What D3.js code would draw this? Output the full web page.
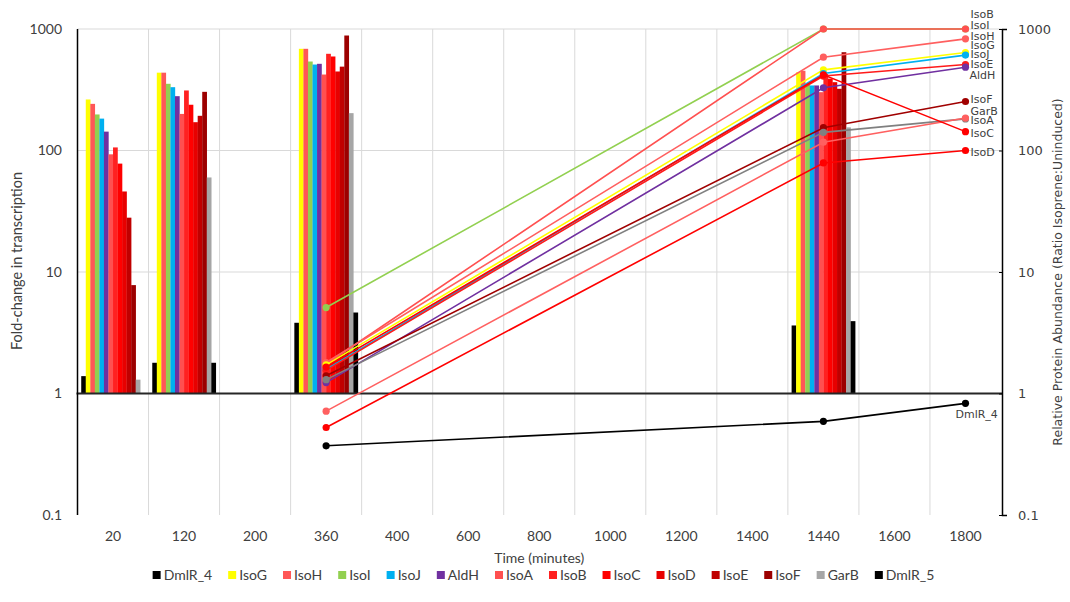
<!DOCTYPE html>
<html>
<head>
<meta charset="utf-8">
<script src="https://cdn.jsdelivr.net/npm/d3@7"></script>
<style>
  body { margin: 0; background: #fff; }
  text { font-family: Lato, "Liberation Sans", sans-serif; fill: #404040; }
  .r text, text.r { font-family: "DejaVu Sans", sans-serif; }
</style>
</head>
<body>
<div id="chart"></div>
<script>
// categories on the x axis (category axis, not time scale)
var categories = ["20", "120", "200", "360", "400", "600", "800", "1000", "1200", "1400", "1440", "1600", "1800"];

// bar series: fold-change in transcription
var barSeries = ["DmlR_4", "IsoG", "IsoH", "IsoI", "IsoJ", "AldH", "IsoA", "IsoB", "IsoC", "IsoD", "IsoE", "IsoF", "GarB", "DmlR_5"];
var barColors = ["#000000", "#FFFF00", "#FF5757", "#92D050", "#00B0F0", "#7030A0", "#FF5050", "#FF2121", "#FF0000", "#E80000", "#C00000", "#9C0000", "#A6A6A6", "#000000"];
var barTimes = ["20", "120", "360", "1440"];
var fc20   = [1.39, 263, 242, 198, 183, 143, 93, 106, 78, 46, 28, 7.8, 1.3, null];
var fc120  = [1.79, 437, 437, 354, 332, 280, 200, 312, 238, 171, 193, 304, 60, 1.79];
var fc360  = [3.82, 687, 687, 540, 510, 517, 422, 625, 594, 447, 490, 884, 203, 4.64];
var fc1440 = [3.63, 441, 453, 354, 343, 343, 302, 427, 390, 365, 322, 644, 155, 3.94];
var barValues = [fc20, fc120, fc360, fc1440];

// line series: relative protein abundance (secondary axis)
var lineTimes = ["360", "1440", "1800"];
var lineSeries = ["IsoI", "IsoB", "IsoH", "IsoG", "IsoJ", "IsoE", "AldH", "IsoF", "GarB", "IsoA", "IsoC", "IsoD", "DmlR_4"];
var lineColors = ["#92D050", "#FF5050", "#FF5F5F", "#FFFF00", "#00B0F0", "#FF1A1A", "#7030A0", "#A00000", "#808080", "#FF6060", "#FF0000", "#FF0000", "#000000"];
var prot360  = [5.1, 1.75, 1.80, 1.72, 1.58, 1.55, 1.23, 1.40, 1.30, 0.716, 1.65, 0.525, 0.371];
var prot1440 = [1000, 1000, 586, 461, 430, 410, 328, 154, 141, 117, 420, 79, 0.59];
var prot1800 = [1000, 1000, 830, 640, 610, 510, 485, 253, 182, 185, 143, 100, 0.83];
var protValues = [prot360, prot1440, prot1800];

var logTicks = [0.1, 1, 10, 100, 1000];

// label nudges at the last point (dx, dy in px)
var labelNudge = {
  IsoB: [5, -15], IsoI: [5, -4], IsoH: [5, -3], IsoG: [5, -7], IsoJ: [5, -1], IsoE: [5, 0],
  AldH: [4, 8], IsoF: [5, -2], GarB: [5, -8], IsoA: [5, 2], IsoC: [5, 2], IsoD: [5, 2], DmlR_4: [-10, 11]
};

var width = 1070, height = 602;
var plotL = 77.5, plotR = 1001, plotT = 29, plotB = 515;

var svg = d3.select("#chart")
  .append("svg")
    .attr("width", width)
    .attr("height", height);

var x = d3.scaleBand()
  .domain(categories)
  .range([plotL, plotR]);

var xInner = d3.scaleBand()
  .domain(barSeries)
  .range([0, x.bandwidth()])
  .paddingOuter(0.82);

var y = d3.scaleLog()
  .domain([0.1, 1000])
  .range([plotB, plotT]);

// gridlines
svg.append("g")
  .selectAll("line")
  .data([10, 100, 1000])
  .enter()
  .append("line")
    .attr("x1", plotL).attr("x2", plotR)
    .attr("y1", d => y(d)).attr("y2", d => y(d))
    .attr("stroke", "#d9d9d9");
svg.append("g")
  .selectAll("line")
  .data(categories.slice(1))
  .enter()
  .append("line")
    .attr("x1", d => x(d)).attr("x2", d => x(d))
    .attr("y1", plotT).attr("y2", plotB)
    .attr("stroke", "#d9d9d9");

// bars
barTimes.forEach(function(t, i) {
  svg.append("g")
    .selectAll("rect")
    .data(barSeries.map((s, j) => ({s: s, v: barValues[i][j], c: barColors[j]})).filter(d => d.v != null))
    .enter()
    .append("rect")
      .attr("x", d => x(t) + xInner(d.s))
      .attr("width", xInner.bandwidth() + 0.2)
      .attr("y", d => Math.min(y(d.v), y(1)))
      .attr("height", d => Math.abs(y(1) - y(d.v)))
      .attr("fill", d => d.c);
});

// horizontal axis line at 1
svg.append("line")
  .attr("x1", plotL - 1).attr("x2", plotR + 1)
  .attr("y1", y(1)).attr("y2", y(1))
  .attr("stroke", "#262626")
  .attr("stroke-width", 2);

// left axis
svg.append("line")
  .attr("x1", plotL).attr("x2", plotL)
  .attr("y1", plotT).attr("y2", plotB)
  .attr("stroke", "#000").attr("stroke-width", 1.5);
svg.append("g")
  .selectAll("text")
  .data(logTicks)
  .enter()
  .append("text")
    .attr("x", 62)
    .attr("y", d => y(d))
    .attr("dy", "0.35em")
    .attr("text-anchor", "end")
    .attr("font-size", "14px")
    .text(d => d);
svg.append("text")
  .attr("transform", "translate(22," + 261 + ") rotate(-90)")
  .attr("text-anchor", "middle")
  .attr("font-size", "14.5px")
  .text("Fold-change in transcription");

// right axis
var yAxisRight = svg.append("g")
  .attr("class", "r")
  .attr("transform", "translate(" + (plotR + 1) + ",0)")
  .call(d3.axisRight(y).tickValues(logTicks).tickFormat(d => d).tickSizeInner(-3).tickSizeOuter(5).tickPadding(16));
yAxisRight.select(".domain").attr("stroke", "#000").attr("stroke-width", 1.5);
yAxisRight.selectAll(".tick line").attr("stroke", "#000");
yAxisRight.selectAll(".tick text").attr("font-size", "13px").attr("fill", "#404040");
svg.append("text")
  .attr("class", "r")
  .attr("transform", "translate(1062," + 272 + ") rotate(-90)")
  .attr("text-anchor", "middle")
  .attr("font-size", "12.5px")
  .text("Relative Protein Abundance (Ratio Isoprene:Uninduced)");

// x tick labels
svg.append("g")
  .selectAll("text")
  .data(categories)
  .enter()
  .append("text")
    .attr("x", d => x(d) + x.bandwidth() / 2)
    .attr("y", 541)
    .attr("text-anchor", "middle")
    .attr("font-size", "14px")
    .text(d => d);
svg.append("text")
  .attr("x", (plotL + plotR) / 2)
  .attr("y", 563)
  .attr("text-anchor", "middle")
  .attr("font-size", "14px")
  .text("Time (minutes)");

// protein lines
var line = d3.line()
  .x(d => x(d.t) + x.bandwidth() / 2)
  .y(d => y(d.v));

lineSeries.forEach(function(s, i) {
  var pts = lineTimes.map((t, k) => ({t: t, v: protValues[k][i]}));
  var g = svg.append("g");
  g.append("path")
    .datum(pts)
    .attr("d", line)
    .attr("fill", "none")
    .attr("stroke", lineColors[i])
    .attr("stroke-width", 1.6);
  g.selectAll("circle")
    .data(pts)
    .enter()
    .append("circle")
      .attr("cx", d => x(d.t) + x.bandwidth() / 2)
      .attr("cy", d => y(d.v))
      .attr("r", 3.6)
      .attr("fill", lineColors[i]);
  var last = pts[pts.length - 1];
  var n = labelNudge[s];
  svg.append("text")
    .attr("class", "r")
    .attr("x", x(last.t) + x.bandwidth() / 2 + n[0])
    .attr("y", y(last.v) + n[1])
    .attr("dy", "0.35em")
    .attr("font-size", "11px")
    .text(s);
});

// legend
var legend = svg.append("g");
var lx = 0;
barSeries.forEach(function(s, i) {
  var item = legend.append("g").attr("transform", "translate(" + lx + ",0)");
  item.append("rect")
    .attr("x", 0).attr("y", -4)
    .attr("width", 8).attr("height", 8)
    .attr("fill", barColors[i]);
  var t = item.append("text")
    .attr("x", 11).attr("y", 0)
    .attr("dy", "0.35em")
    .attr("font-size", "14px")
    .text(s);
  lx += 11 + t.node().getComputedTextLength() + 16;
});
lx -= 16;
legend.attr("transform", "translate(" + (543.5 - lx / 2) + ",575)");
</script>
</body>
</html>
